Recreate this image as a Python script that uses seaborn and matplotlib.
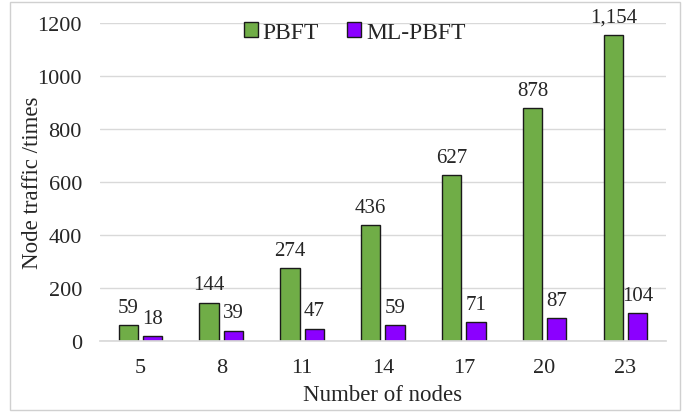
import numpy as np
import pandas as pd
import matplotlib
matplotlib.use("Agg")
import matplotlib.pyplot as plt
import seaborn as sns
from matplotlib.patches import Rectangle

# --- data ---
nodes = ["5", "8", "11", "14", "17", "20", "23"]
pbft = [59, 144, 274, 436, 627, 878, 1154]
ml_pbft = [18, 39, 47, 59, 71, 87, 104]
series_names = ["PBFT", "ML-PBFT"]
colors = ["#70AD47", "#8B00FF"]

df = pd.DataFrame({
    "nodes": nodes * 2,
    "traffic": pbft + ml_pbft,
    "method": [series_names[0]] * len(nodes) + [series_names[1]] * len(nodes),
})

sns.set_theme(style="white")
plt.rcParams["font.family"] = ["Liberation Serif", "DejaVu Serif"]

fig = plt.figure(figsize=(6.85, 4.14), dpi=100)
ax = fig.add_axes([0.146, 0.174, 0.826, 0.768])

sns.barplot(data=df, x="nodes", y="traffic", hue="method", order=nodes,
            hue_order=series_names, palette=colors, width=0.6, gap=0.2,
            edgecolor="#1a1a1a", linewidth=1.0, saturation=1, ax=ax)

for cont in ax.containers:
    ax.bar_label(cont, fmt="{:,.0f}", padding=6, fontsize=15, color="#262626")

ax.set_ylim(0, 1200)
ax.set_yticks(np.arange(0, 1201, 200))
ax.yaxis.grid(True, color="#d9d9d9", linewidth=1)
ax.set_axisbelow(True)
for s in ["top", "right", "left"]:
    ax.spines[s].set_visible(False)
ax.spines["bottom"].set_color("#d9d9d9")
ax.tick_params(axis="y", length=0, labelsize=16, colors="#262626", pad=13)
ax.tick_params(axis="x", length=0, labelsize=16, colors="#262626", pad=12)
ax.set_xlabel("Number of nodes", fontsize=16.5, color="#262626", labelpad=5)
ax.set_ylabel("Node traffic /times", fontsize=16.5, color="#262626")
ax.yaxis.set_label_coords(-0.10, 0.5)

leg = ax.legend(loc="upper center", bbox_to_anchor=(0.45, 1.07), ncol=2,
                frameon=False, fontsize=17, handlelength=0.6, handleheight=0.6,
                handletextpad=0.2, columnspacing=1.2)
for t in leg.get_texts():
    t.set_color("#262626")

fig.patches.append(Rectangle((0.015, 0.008), 0.978, 0.985, transform=fig.transFigure,
                             fill=False, edgecolor="#d0d0d0", linewidth=1))

fig.savefig("out.png", dpi=100)
